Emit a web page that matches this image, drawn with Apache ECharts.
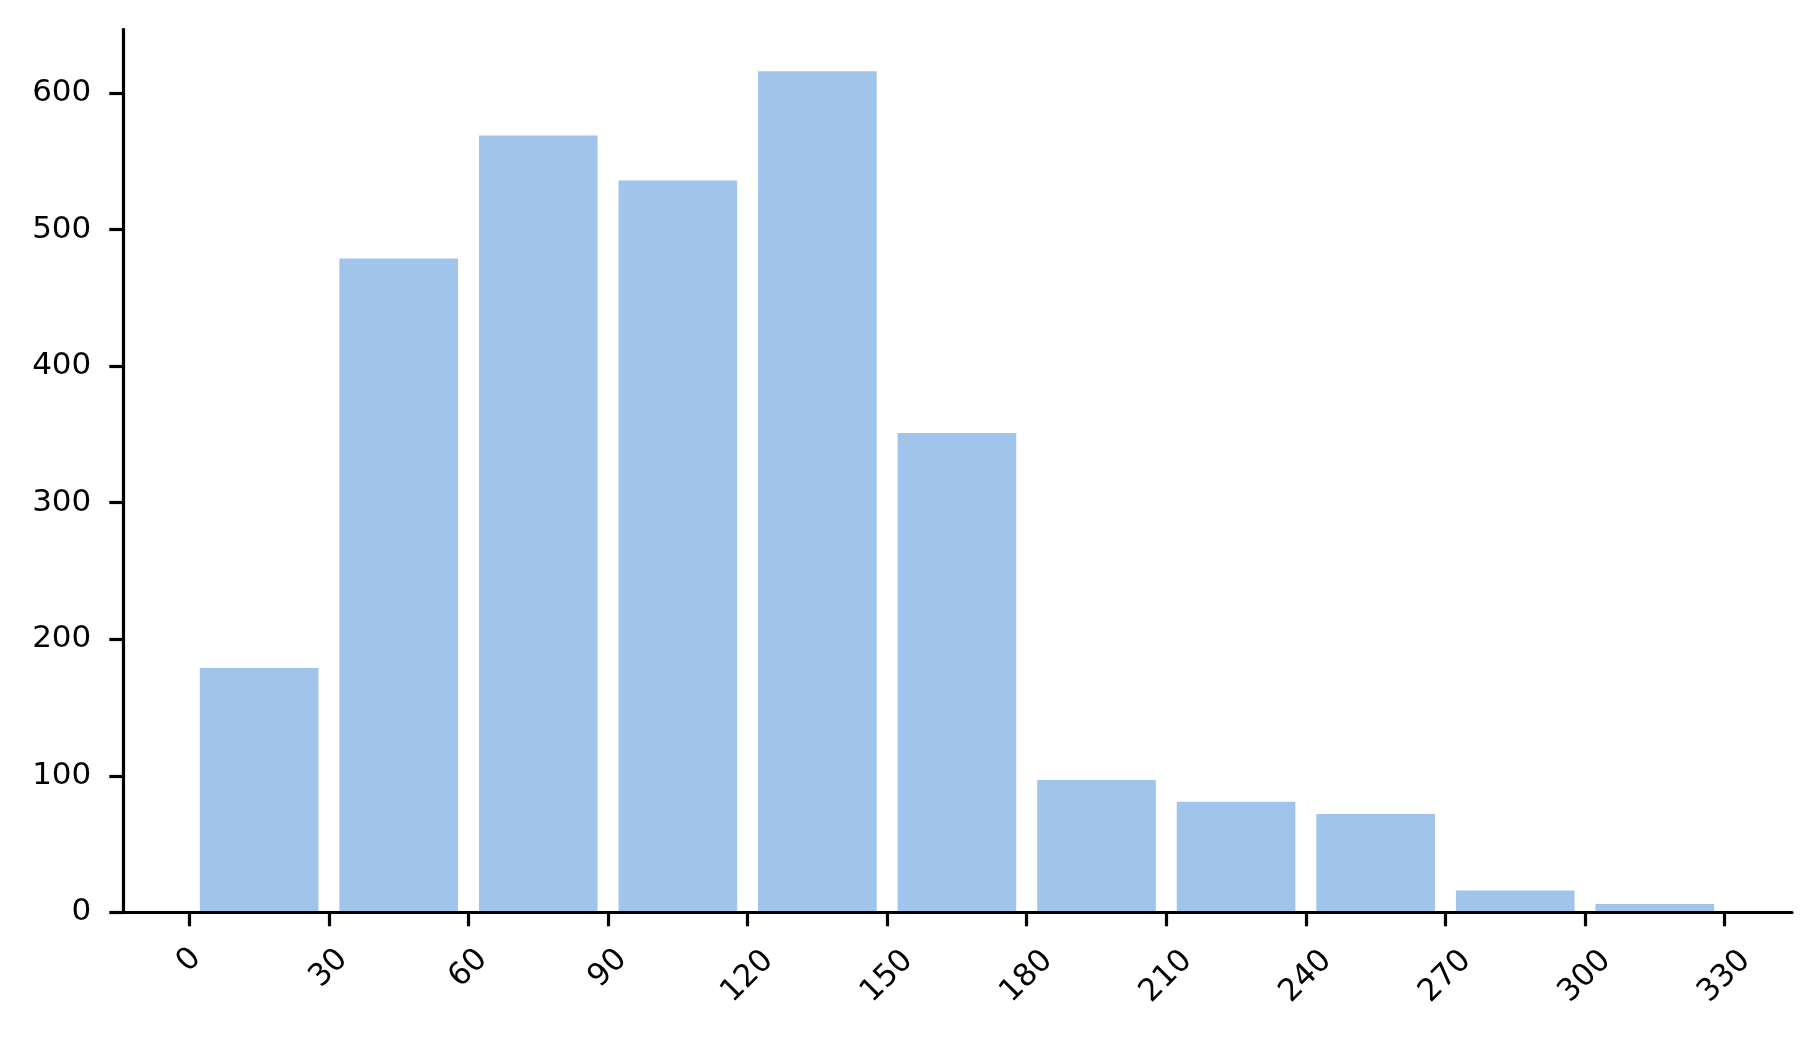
<!DOCTYPE html>
<html>
<head>
<meta charset="utf-8">
<title>Histogram</title>
<script src="https://cdn.jsdelivr.net/npm/echarts@6/dist/echarts.min.js"></script>
<style>
  html, body { margin: 0; padding: 0; background: #fff; }
  #chart { width: 1820px; height: 1040px; }
</style>
</head>
<body>
<div id="chart"></div>
<script>
// Bin edges (width 30) and counts per bin
const binEdges = [0, 30, 60, 90, 120, 150, 180, 210, 240, 270, 300, 330];
const counts = [179, 479, 569, 536, 616, 351, 97, 81, 72, 16, 6];

// Tick labels
const xTicks = [0, 30, 60, 90, 120, 150, 180, 210, 240, 270, 300, 330];
const yTicks = [0, 100, 200, 300, 400, 500, 600];

const BAR_COLOR = '#a1c4eb';
const RWIDTH = 0.85;          // fraction of bin width filled by a bar
const FONT = '"DejaVu Sans", sans-serif';
const FONT_SIZE = 31;

const bins = counts.map((c, i) => [binEdges[i], binEdges[i + 1], c]);

// rotated x labels are centred on the tick; longer ones sit a bit lower
const digitShift = 11.6;
const rich = {};
[1, 2, 3].forEach((n) => {
  const p = digitShift * (n - 1);
  rich['d' + n] = { fontSize: FONT_SIZE, fontFamily: FONT, color: '#000', padding: [p, p, 0, 0] };
});

const lineStyle = { color: '#000', width: 3.2 };

const chart = echarts.init(document.getElementById('chart'), null, { renderer: 'canvas' });

chart.setOption({
  animation: false,
  backgroundColor: '#fff',
  grid: { left: 123.3, right: 28, top: 29.3, bottom: 127.7, containLabel: false },
  xAxis: {
    type: 'value',
    min: -14.2,
    max: 344.5,
    z: 10,
    splitLine: { show: false },
    axisLine: { show: true, onZero: false, lineStyle },
    axisTick: { show: true, length: 14, lineStyle, customValues: xTicks },
    axisLabel: {
      customValues: xTicks,
      rotate: 45,
      align: 'center',
      verticalAlign: 'middle',
      margin: 48,
      fontSize: FONT_SIZE,
      fontFamily: FONT,
      color: '#000',
      formatter: (v) => `{d${String(v).length}|${v}}`,
      rich,
    },
  },
  yAxis: {
    type: 'value',
    min: 0,
    max: Math.max(...counts) * 1.05,
    z: 10,
    splitLine: { show: false },
    axisLine: { show: true, onZero: false, lineStyle },
    axisTick: { show: true, length: 14, lineStyle, customValues: yTicks },
    axisLabel: {
      customValues: yTicks,
      margin: 32,
      fontSize: FONT_SIZE,
      fontFamily: FONT,
      color: '#000',
    },
  },
  series: [{
    type: 'custom',
    z: 1,
    data: bins,
    renderItem: (params, api) => {
      const x0 = api.value(0);
      const x1 = api.value(1);
      const pad = (x1 - x0) * (1 - RWIDTH) / 2;
      const topLeft = api.coord([x0 + pad, api.value(2)]);
      const bottomRight = api.coord([x1 - pad, 0]);
      return {
        type: 'rect',
        shape: {
          x: topLeft[0],
          y: topLeft[1],
          width: bottomRight[0] - topLeft[0],
          height: bottomRight[1] - topLeft[1],
        },
        style: { fill: BAR_COLOR },
      };
    },
  }],
});
</script>
</body>
</html>
